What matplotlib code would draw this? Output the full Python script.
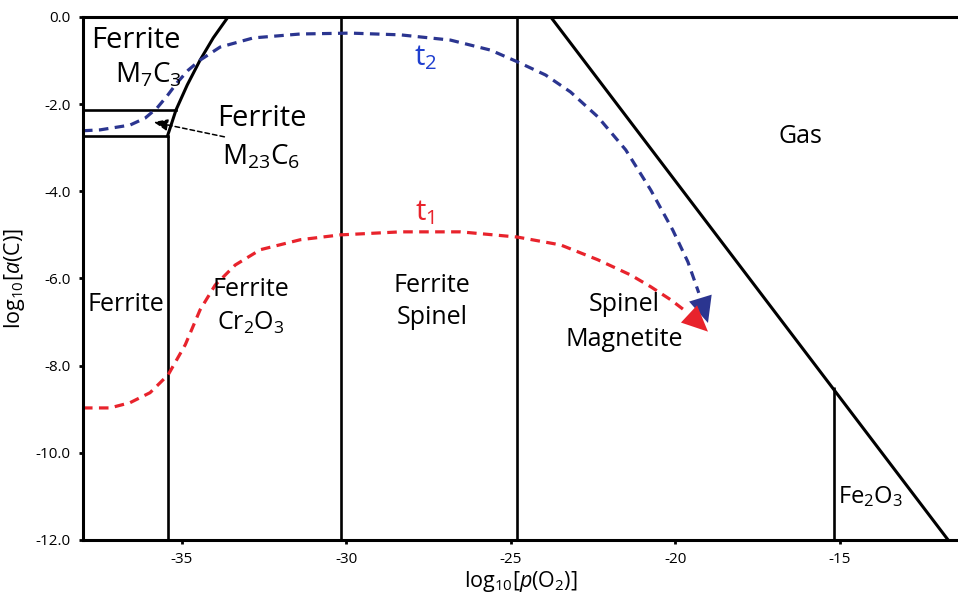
import matplotlib.pyplot as plt

plt.rcParams['font.family'] = ['Open Sans', 'DejaVu Sans']
plt.rcParams['mathtext.fontset'] = 'custom'
plt.rcParams['mathtext.rm'] = 'Open Sans'
plt.rcParams['mathtext.it'] = 'Open Sans:italic'
plt.rcParams['mathtext.bf'] = 'Open Sans:bold'

# axis ticks
x_ticks = [-35, -30, -25, -20, -15]
x_tick_labels = ['-35', '-30', '-25', '-20', '-15']
y_ticks = [0, -2, -4, -6, -8, -10, -12]
y_tick_labels = ['0.0', '-2.0', '-4.0', '-6.0', '-8.0', '-10.0', '-12.0']

# phase boundaries
v_lines_x = [-35.43, -30.16, -24.82, -15.18]
v_lines_top = [-2.73, 0.0, 0.0, -8.5]
h_lines_y = [-2.13, -2.73]
h_lines_xmax = [-35.17, -35.43]
curve_bx = [-35.43, -35.17, -34.83, -34.44, -34.04, -33.59]
curve_by = [-2.73, -2.13, -1.56, -0.99, -0.48, 0.0]
gas_x = [-23.78, -11.7]
gas_y = [0.0, -12.0]

# t2 path (blue)
t2_x = [-38.0, -37.48, -36.57, -36.11, -35.75, -35.44, -35.14, -34.80, -34.44,
        -33.83, -32.82, -31.39, -29.87, -28.35, -26.83, -25.61, -24.79, -23.94,
        -23.18, -22.35, -21.50, -20.74, -20.07, -19.61, -19.28]
t2_y = [-2.61, -2.59, -2.48, -2.32, -2.09, -1.81, -1.51, -1.22, -0.99,
        -0.69, -0.48, -0.39, -0.37, -0.41, -0.53, -0.76, -1.03, -1.33,
        -1.72, -2.29, -3.05, -3.97, -4.89, -5.62, -6.33]
t2_tip = (-19.0, -7.02)

# t1 path (red)
t1_x = [-38.0, -37.18, -36.57, -35.96, -35.41, -34.89, -34.44, -33.98, -33.37,
        -32.61, -31.39, -30.18, -28.35, -26.52, -24.79, -23.48, -22.35, -21.35,
        -20.74, -20.13, -19.61]
t1_y = [-8.97, -8.97, -8.85, -8.62, -8.21, -7.52, -6.72, -6.15, -5.69,
        -5.34, -5.11, -5.00, -4.93, -4.93, -5.05, -5.23, -5.57, -5.92,
        -6.19, -6.49, -6.79]
t1_tip = (-19.0, -7.22)

BLUE = '#2b3590'
RED = '#e8232c'

fig = plt.figure(figsize=(9.58, 5.98), dpi=100)
ax = fig.add_axes([0.0866, 0.097, 0.9134, 0.8746])

lw = 1.9
for x, top in zip(v_lines_x, v_lines_top):
    ax.plot([x, x], [-12, top], color='black', lw=lw, solid_capstyle='butt')
for y, xmax in zip(h_lines_y, h_lines_xmax):
    ax.plot([-38, xmax], [y, y], color='black', lw=lw)
ax.plot(curve_bx, curve_by, color='black', lw=lw + 0.3)
ax.plot(gas_x, gas_y, color='black', lw=lw + 0.3)

# dashed trajectories
ax.plot(t2_x, t2_y, color=BLUE, lw=2.3, ls=(0, (3, 2)))
ax.plot(t1_x, t1_y, color=RED, lw=2.3, ls=(0, (3, 2)))
ax.annotate('', xy=t2_tip, xytext=(t2_x[-1], t2_y[-1]),
            arrowprops=dict(arrowstyle='-|>,head_length=1.1,head_width=0.5',
                            color=BLUE, lw=0, shrinkA=0, shrinkB=0, mutation_scale=17))
ax.annotate('', xy=t1_tip, xytext=(t1_x[-1], t1_y[-1]),
            arrowprops=dict(arrowstyle='-|>,head_length=1.1,head_width=0.5',
                            color=RED, lw=0, shrinkA=0, shrinkB=0, mutation_scale=17))

# pointer to M23C6 region
ax.annotate('', xy=(-35.85, -2.41), xytext=(-33.7, -2.75),
            arrowprops=dict(arrowstyle='-|>,head_length=0.6,head_width=0.25',
                            color='black', lw=1.1, ls=(0, (3, 2)),
                            shrinkA=0, shrinkB=0, mutation_scale=14))

big = 21
mid = 18
ax.text(-36.4, -0.53, 'Ferrite', fontsize=big, ha='center', va='center')
ax.text(-36.0, -1.33, r'$\mathregular{M_7C_3}$', fontsize=big - 1, ha='center', va='center')
ax.text(-32.55, -2.32, 'Ferrite', fontsize=big, ha='center', va='center')
ax.text(-32.6, -3.21, r'$\mathregular{M_{23}C_6}$', fontsize=big - 1, ha='center', va='center')
ax.text(-27.6, -0.94, r'$\mathregular{t_2}$', fontsize=big, color='#1f3fcf', ha='center', va='center')
ax.text(-27.6, -4.5, r'$\mathregular{t_1}$', fontsize=big, color=RED, ha='center', va='center')
ax.text(-16.2, -2.75, 'Gas', fontsize=mid, ha='center', va='center')
ax.text(-36.7, -6.6, 'Ferrite', fontsize=mid, ha='center', va='center')
ax.text(-32.9, -6.26, 'Ferrite', fontsize=mid, ha='center', va='center')
ax.text(-32.9, -7.02, r'$\mathregular{Cr_2O_3}$', fontsize=mid, ha='center', va='center')
ax.text(-27.38, -6.15, 'Ferrite', fontsize=mid, ha='center', va='center')
ax.text(-27.38, -6.9, 'Spinel', fontsize=mid, ha='center', va='center')
ax.text(-21.56, -6.6, 'Spinel', fontsize=mid, ha='center', va='center')
ax.text(-21.56, -7.41, 'Magnetite', fontsize=mid, ha='center', va='center')
ax.text(-14.05, -11.0, r'$\mathregular{Fe_2O_3}$', fontsize=mid - 1, ha='center', va='center')

ax.set_xlim(-38, -11.4)
ax.set_ylim(-12, 0)
ax.set_xticks(x_ticks, x_tick_labels)
ax.set_yticks(y_ticks, y_tick_labels)
ax.tick_params(axis='both', length=3, width=2, labelsize=11, pad=6)
for side in ['left', 'top', 'bottom']:
    ax.spines[side].set_linewidth(2.2)
ax.spines['right'].set_visible(False)

ax.set_xlabel(r'$\mathregular{log_{10}[\mathit{p}(O_2)]}$', fontsize=15.5, labelpad=1)
ax.set_ylabel(r'$\mathregular{log_{10}[\mathit{a}(C)]}$', fontsize=15.5, labelpad=6)

fig.savefig('out.png', dpi=100)
